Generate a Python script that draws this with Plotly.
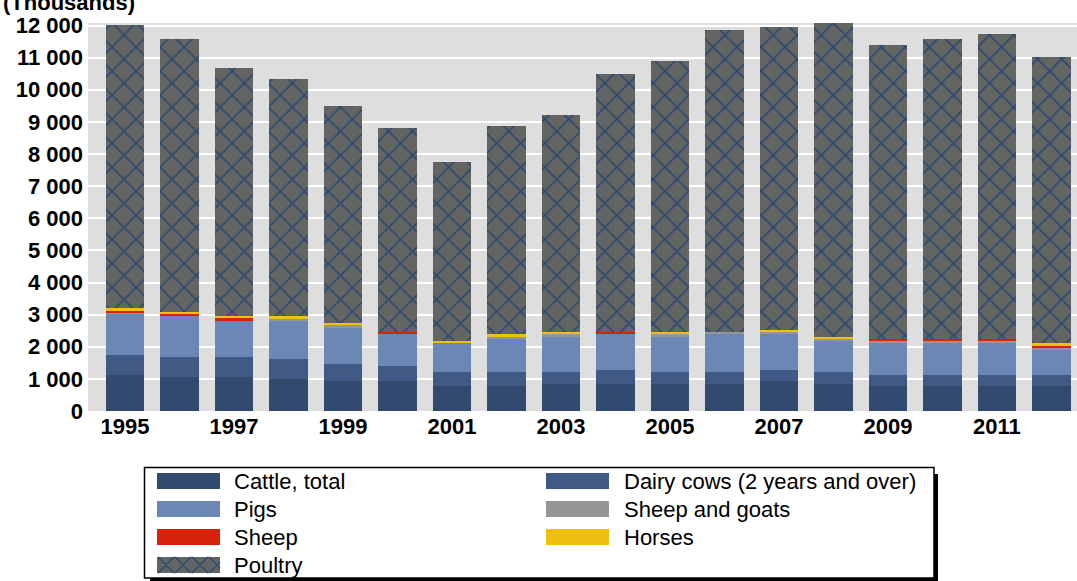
import plotly.graph_objects as go

# ---- data (thousands of head) ----
years = list(range(1995, 2013))
cattle = [1130, 1070, 1070, 1010, 945, 945, 790, 790, 855, 855, 855, 855, 945, 855, 790, 790, 790, 790]
dairy_cows = [620, 620, 620, 620, 530, 465, 435, 435, 370, 435, 370, 370, 340, 370, 345, 345, 345, 345]
pigs = [1275, 1275, 1120, 1180, 1120, 995, 900, 1025, 1090, 1115, 1090, 1180, 1120, 960, 990, 990, 990, 780]
sheep_goats = [40, 0, 0, 60, 90, 0, 0, 60, 90, 0, 90, 60, 60, 60, 60, 60, 60, 60]
sheep = [60, 60, 75, 0, 0, 60, 0, 0, 0, 60, 0, 0, 0, 0, 60, 60, 60, 60]
horses = [75, 60, 80, 90, 60, 0, 60, 90, 60, 0, 60, 0, 60, 60, 0, 0, 0, 90]
poultry = [8810, 8495, 7710, 7375, 6750, 6345, 5565, 6470, 6750, 8025, 8430, 9395, 9430, 9800, 9150, 9335, 9490, 8895]

y_tick_vals = list(range(0, 13000, 1000))
y_tick_text = ["0", "1 000", "2 000", "3 000", "4 000", "5 000", "6 000",
               "7 000", "8 000", "9 000", "10 000", "11 000", "12 000"]
x_tick_vals = [1995, 1997, 1999, 2001, 2003, 2005, 2007, 2009, 2011]
x_tick_text = ["1995", "1997", "1999", "2001", "2003", "2005", "2007", "2009", "2011"]

series = [
    ("Cattle, total", cattle, "#314a6e"),
    ("Dairy cows (2 years and over)", dairy_cows, "#415a85"),
    ("Pigs", pigs, "#6b87b5"),
    ("Sheep and goats", sheep_goats, "#969696"),
    ("Sheep", sheep, "#d9220a"),
    ("Horses", horses, "#f0c010"),
]
POULTRY_BG = "#636563"
POULTRY_FG = "#2e4a72"

FONT = "Liberation Sans, Arial, sans-serif"

fig = go.Figure()
for name, vals, col in series:
    fig.add_trace(go.Bar(x=years, y=vals, name=name, marker=dict(color=col, line=dict(width=0)),
                         showlegend=False))
fig.add_trace(go.Bar(
    x=years, y=poultry, name="Poultry", showlegend=False,
    marker=dict(color=POULTRY_BG, line=dict(width=0),
                pattern=dict(shape="x", fillmode="replace", bgcolor=POULTRY_BG,
                             fgcolor=POULTRY_FG, size=17, solidity=0.2)),
))

# plot area in pixels (used to place the hand-drawn legend)
L, R, T, B = 88, 1077, 23, 411


def px(x):
    return (x - L) / (R - L)


def py(y):
    return (B - y) / (B - T)


shapes = []
annotations = []

# legend frame + drop shadow
shapes.append(dict(type="rect", xref="paper", yref="paper", x0=px(150), x1=px(938), y0=py(581), y1=py(474),
                   fillcolor="black", line=dict(width=0)))
shapes.append(dict(type="rect", xref="paper", yref="paper", x0=px(144.5), x1=px(934), y0=py(578), y1=py(467.5),
                   fillcolor="white", line=dict(color="black", width=1.5)))

legend_items = [(n, c) for n, _, c in series] + [("Poultry", None)]
cols_x = [(157, 220, 232), (546, 609, 622)]
row_y = [481, 509, 537, 565]
for i, (name, col) in enumerate(legend_items):
    sx0, sx1, tx = cols_x[i % 2]
    cy = row_y[i // 2]
    y0, y1 = cy - 8, cy + 8
    shapes.append(dict(type="rect", xref="paper", yref="paper", x0=px(sx0), x1=px(sx1),
                       y0=py(y1), y1=py(y0), fillcolor=col or POULTRY_BG, line=dict(width=0)))
    if col is None:
        # crossed lattice like the bar pattern
        segs = []
        step = 17
        for c in range(sx0 - y1 - step, sx1 - y0 + step, step):
            ya, yb = max(y0, sx0 - c), min(y1, sx1 - c)
            if ya < yb:
                segs.append(f"M{px(ya + c)},{py(ya)} L{px(yb + c)},{py(yb)}")
        for c in range(sx0 + y0 - step, sx1 + y1 + step, step):
            ya, yb = max(y0, c - sx1), min(y1, c - sx0)
            if ya < yb:
                segs.append(f"M{px(c - ya)},{py(ya)} L{px(c - yb)},{py(yb)}")
        shapes.append(dict(type="path", xref="paper", yref="paper", path=" ".join(segs),
                           line=dict(color=POULTRY_FG, width=1.5)))
    annotations.append(dict(text=name, x=px(tx), y=py(cy), xref="paper", yref="paper",
                            xanchor="left", yanchor="middle", showarrow=False,
                            font=dict(family=FONT, size=22, color="black")))

# unit label, partly cut off by the top edge as in the original
annotations.append(dict(text="(Thousands)", x=px(1), y=py(17), xref="paper", yref="paper",
                        xanchor="left", yanchor="bottom", showarrow=False,
                        font=dict(family=FONT, size=22, color="black", weight="bold")))

fig.update_layout(
    width=1077, height=581,
    margin=dict(l=L, r=1077 - R, t=T, b=581 - B, pad=0),
    barmode="stack", bargap=0.29,
    plot_bgcolor="#dedede", paper_bgcolor="white",
    font=dict(family=FONT, color="black"),
    shapes=shapes, annotations=annotations,
    showlegend=False,
)
fig.update_xaxes(range=[1994.32, 2012.47], tickvals=x_tick_vals, ticktext=x_tick_text,
                 showgrid=False, zeroline=False, showline=False, ticks="",
                 tickfont=dict(family=FONT, size=22, color="black", weight="bold"))
fig.update_yaxes(range=[0, 12078], tickvals=y_tick_vals, ticktext=y_tick_text,
                 showgrid=True, gridcolor="white", gridwidth=2, zeroline=False, showline=False, ticks="",
                 ticklabelstandoff=4,
                 tickfont=dict(family=FONT, size=22, color="black", weight="bold"))

# page margin would push the 1077x581 figure off the window
fig.write_html("out.html", config={"displayModeBar": False},
               post_script="document.body.style.margin='0';document.body.style.overflow='hidden';")
